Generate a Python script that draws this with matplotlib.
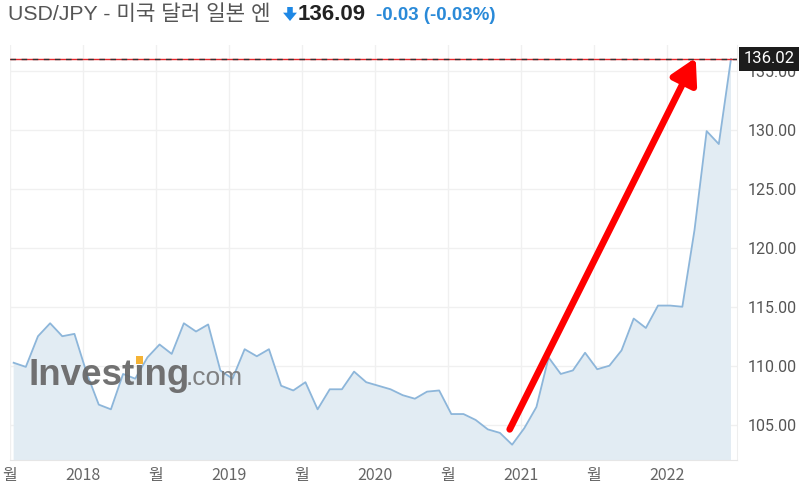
#!/usr/bin/env python3

import matplotlib.pyplot as plt
from matplotlib.patches import Rectangle

# USD/JPY monthly closes, Jul 2017 .. Jun 2022
values = [
    110.25, 109.9, 112.5, 113.6, 112.5, 112.7,          # 2017 Jul-Dec
    109.4, 106.7, 106.3, 109.3, 108.9, 110.7,            # 2018 Jan-Jun
    111.8, 111.0, 113.6, 112.9, 113.5, 109.6,            # 2018 Jul-Dec
    108.9, 111.4, 110.8, 111.4, 108.3, 107.9,            # 2019 Jan-Jun
    108.6, 106.3, 108.0, 108.0, 109.5, 108.6,            # 2019 Jul-Dec
    108.3, 108.0, 107.5, 107.2, 107.8, 107.9,            # 2020 Jan-Jun
    105.9, 105.9, 105.4, 104.6, 104.3, 103.3,            # 2020 Jul-Dec
    104.7, 106.5, 110.7, 109.3, 109.6, 111.1,            # 2021 Jan-Jun
    109.7, 110.0, 111.3, 114.0, 113.2, 115.1,            # 2021 Jul-Dec
    115.1, 115.0, 121.5, 129.9, 128.8, 136.02,           # 2022 Jan-Jun
]
x = list(range(len(values)))

month_ticks = [0, 12, 24, 36, 48]
year_ticks = [6, 18, 30, 42, 54]
year_labels = ["2018", "2019", "2020", "2021", "2022"]
y_ticks = [105, 110, 115, 120, 125, 130, 135]
last_price = 136.02

LINE = "#8db6da"
FILL = "#e2ecf3"
GRID = "#f0f0f0"

fig = plt.figure(figsize=(8, 4.92), dpi=100)
ax = fig.add_axes([0.0125, 0.065, 0.9088, 0.8435])

ax.fill_between(x, values, 90, color=FILL, lw=0)
ax.plot(x, values, color=LINE, lw=1.3)

ax.set_xlim(-0.25, 59.5)
ax.set_ylim(102.0, 137.2)

# grid
for t in month_ticks + year_ticks:
    ax.axvline(t - 0.3, color=GRID, lw=1, zorder=0)
for t in y_ticks:
    ax.axhline(t, color=GRID, lw=1, zorder=0)

# ticks
ax.set_xticks([t - 0.3 for t in month_ticks + year_ticks])
ax.set_xticklabels(["월"] * len(month_ticks) + year_labels,
                   family=["Liberation Sans Narrow", "Noto Sans CJK KR"],
                   fontsize=11.5, color="#666666")
ax.yaxis.tick_right()
ax.set_yticks(y_ticks)
ax.set_yticklabels([f"{v:.2f}" for v in y_ticks], family="Roboto",
                   fontsize=11.5, color="#555555")
ax.tick_params(axis="both", length=0)
ax.tick_params(axis="y", pad=8)
ax.tick_params(axis="x", pad=5)

for s in ["top", "left"]:
    ax.spines[s].set_visible(False)
ax.spines["bottom"].set_color("#e6e6e6")
ax.spines["right"].set_color("#eeeeee")

# current price line + label
ax.axhline(last_price, color="#e8262b", lw=1, zorder=4)
ax.axhline(last_price, color="#333333", lw=1, ls=(0, (4, 4)), zorder=5)
ax.text(1.009, last_price, f"{last_price:.2f}", transform=ax.get_yaxis_transform(),
        ha="left", va="center", family="Roboto", fontsize=12, color="white",
        bbox=dict(boxstyle="square,pad=0.28", fc="#1c1c1c", ec="none"),
        zorder=10, clip_on=False)

# red arrow
ax.annotate("", xy=(56.1, last_price + 0.1), xytext=(40.8, 104.6),
            arrowprops=dict(arrowstyle="-|>,head_length=0.75,head_width=0.42",
                            color="#ff0000", lw=4.8, mutation_scale=20,
                            shrinkA=0, shrinkB=0),
            zorder=8)

# watermark (dotless i, orange dot added below)
wm_y = 1 - 385 / 492
wm = fig.text(28 / 800, wm_y, "Investıng", family="Liberation Sans",
              fontweight="bold", fontsize=26.5, color="#666666", alpha=0.92,
              va="baseline", zorder=9)
fig.canvas.draw()
r = fig.canvas.get_renderer()
wm_box = wm.get_window_extent(r)
part = fig.text(28 / 800, wm_y, "Invest", family="Liberation Sans",
                fontweight="bold", fontsize=26.5, va="baseline")
px = part.get_window_extent(r).x1
part.remove()
fig.text(wm_box.x1 / 800 - 0.004, wm_y, ".com", family="Liberation Sans",
         fontsize=19, color="#777777", alpha=0.92, va="baseline", zorder=9)
fig.patches.append(Rectangle((px + 1.5, 492 - 364), 7, 8, transform=None,
                             fc="#f5b335", ec="none", zorder=10))

# title
fig.text(8 / 800, 1 - 14 / 492, "USD/JPY - 미국 달러 일본 엔",
         family=["Liberation Sans", "Noto Sans CJK KR"], fontsize=15.3,
         color="#555555", va="center")
ax.annotate("", xy=(290, 492 - 21), xytext=(290, 492 - 7),
            xycoords="figure pixels", textcoords="figure pixels",
            arrowprops=dict(width=4, headwidth=10, headlength=6,
                            color="#1e88e5", lw=0))
fig.text(298 / 800, 1 - 15 / 492, "136.09", family="Liberation Sans",
         fontweight="bold", fontsize=16, color="#222222", va="center")
fig.text(376 / 800, 1 - 15 / 492, "-0.03 (-0.03%)", family="Liberation Sans",
         fontweight="bold", fontsize=13.5, color="#2a8ad8", va="center")

fig.savefig("out.png", dpi=100)
